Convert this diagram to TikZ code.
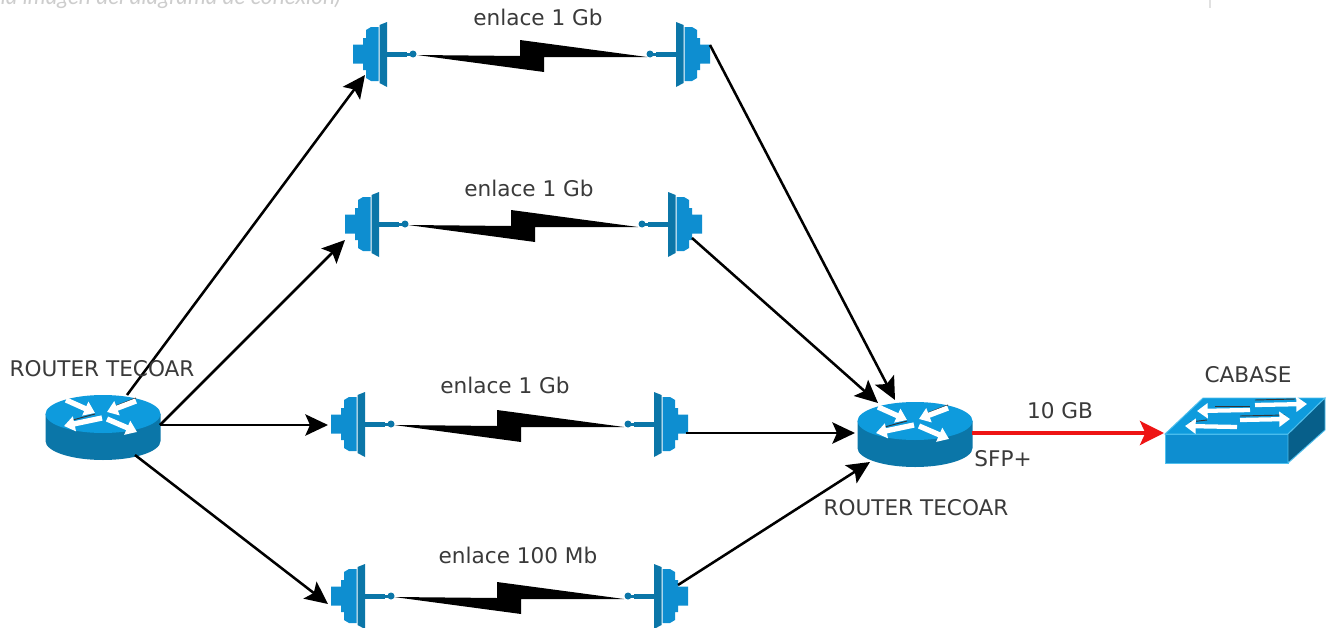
\documentclass[tikz,border=0pt]{standalone}
\usepackage{fontspec}
\setmainfont{DejaVu Sans}
\newfontfamily\capfont{Lato}
\usetikzlibrary{arrows.meta,calc}
\definecolor{ciscotop}{HTML}{0E9BDD}
\definecolor{ciscoside}{HTML}{0B76A8}
\definecolor{ciscomid}{HTML}{0E8ED0}
\definecolor{ciscodeep}{HTML}{075F8A}
\definecolor{ciscoedge}{HTML}{4FC0EE}
\definecolor{labelgrey}{HTML}{3A3A3A}
\tikzset{
  link/.style={draw=black,line width=1.9pt,-{Stealth[length=17pt,width=16pt,inset=3.5pt]}},
  redlink/.style={draw={rgb,255:red,238;green,20;blue,20},line width=2.6pt,-{Stealth[length=18pt,width=18pt,inset=4pt]}},
  lab/.style={text=labelgrey,font=\fontsize{16.2}{18}\selectfont,inner sep=0pt},
  whitearrow/.style={draw=white,line width=4pt,-{Triangle[length=8pt,width=11pt]}},
  shadeline/.style={draw=black!80,line width=0.7pt},
  anchorpt/.style={inner sep=0pt,minimum size=0pt,draw=none},
}
\newcommand{\antennashape}{%
    \fill[ciscomid] (-17,-9.5) -- (-7,-9.5) -- (-7,-16) -- (-4,-16) -- (-4,-24) -- (1,-27) -- (8.5,-27) -- (8.5,27) -- (1,27) -- (-4,24) -- (-4,16) -- (-7,16) -- (-7,9.5) -- (-17,9.5) -- cycle;
    \fill[ciscoside] (9.5,-29) -- (17,-32) -- (17,33) -- (9.5,29) -- cycle;
    \fill[ciscoside] (17,-2.5) rectangle (37,2.5);
    \fill[ciscoside] (43,0) circle (3.5);
    \fill[ciscoside] (37,-1.5) rectangle (41,1.5);}
\newcommand{\antennaL}[3]{%
  \begin{scope}[shift={(#2,#3)}]
    \node[anchorpt] (#1) at (0,0) {};
    \antennashape
  \end{scope}}
\newcommand{\antennaR}[3]{%
  \begin{scope}[shift={(#2,#3)},xscale=-1]
    \node[anchorpt] (#1) at (0,0) {};
    \antennashape
  \end{scope}}
\newcommand{\bolt}[2]{%
  \begin{scope}[shift={(#1,#2)}]
    \fill[black] (0,0) -- (127,17) -- (127,2) -- (230,2) -- (103,-15) -- (103,1) -- cycle;
  \end{scope}}
\newcommand{\routericon}[3]{%
  \begin{scope}[shift={(#2,#3)}]
    \node[anchorpt] (#1) at (0,0) {};
    \fill[ciscoside] (-57.5,-14) -- (-57.5,13) arc[start angle=180,end angle=0,x radius=57.5,y radius=19] -- (57.5,-14) -- cycle;
    \fill[ciscotop] (0,-14) ellipse [x radius=57.5,y radius=19];
    \draw[shadeline] (10,-21) -- (33,-30);
    \draw[shadeline] (-34,-7) -- (-8,-14);
    \draw[whitearrow] (-37,-28) -- (-8,-15);
    \draw[whitearrow] (33,-27) -- (4,-16);
    \draw[whitearrow] (-1,-10) -- (-39,-2);
    \draw[whitearrow] (4,-9) -- (34,4);
  \end{scope}}
\begin{document}
\begin{tikzpicture}[x=0.75pt,y=-0.75pt]
  \path[use as bounding box] (0,0) rectangle (1329,628);
  \clip (0,0) rectangle (1329,628);
  \fill[white] (0,0) rectangle (1329,628);

  \node[anchor=base east,inner sep=0pt,text={rgb,255:red,205;green,205;blue,205},font=\capfont\itshape\fontsize{17}{19}\selectfont] (caption) at (341,5) {(la imagen del diagrama de conexión)};
  \draw[draw={rgb,255:red,225;green,225;blue,225},line width=0.8pt] (1210,0) -- (1210,8);

  % antennas and bolts
  \antennaL{a1}{370}{54}  \antennaR{b1}{693}{54}  \bolt{417}{55}
  \antennaL{a2}{362}{224} \antennaR{b2}{685}{224} \bolt{408}{225}
  \antennaL{a3}{348}{424} \antennaR{b3}{671}{424} \bolt{394}{425}
  \antennaL{a4}{348}{596} \antennaR{b4}{671}{596} \bolt{394}{597}

  % routers
  \routericon{r1}{103}{428}
  \routericon{r2}{915}{435}

  % switch
  \node[anchorpt] (sw) at (1245,430) {};
  \filldraw[fill=ciscomid,draw=ciscoedge,line width=0.7pt] (1165,434) rectangle (1288,463);
  \filldraw[fill=ciscotop,draw=ciscoedge,line width=0.7pt] (1165,434) -- (1203,398) -- (1325,398) -- (1288,434) -- cycle;
  \filldraw[fill=ciscodeep,draw=ciscoedge,line width=0.7pt] (1288,434) -- (1325,398) -- (1325,430) -- (1288,463) -- cycle;
  \draw[shadeline] (1215,406) -- (1250,406);
  \draw[shadeline] (1255,400) -- (1295,399);
  \draw[shadeline] (1190,422) -- (1207,420);
  \draw[shadeline] (1240,416) -- (1285,415);
  \draw[whitearrow,line width=3.2pt] (1250,410) -- (1197,411);
  \draw[whitearrow,line width=3.2pt] (1255,405) -- (1307,404);
  \draw[whitearrow,line width=3.2pt] (1237,427) -- (1185,426);
  \draw[whitearrow,line width=3.2pt] (1240,420) -- (1290,419);

  % connector ends
  \coordinate (r1a) at ($(r1)+(24,-33)$);
  \coordinate (r1b) at ($(r1)+(57,-3)$);
  \coordinate (r1c) at ($(r1)+(32,27)$);
  \coordinate (a1in) at ($(a1)+(-5,21)$);
  \coordinate (a2in) at ($(a2)+(-17,16)$);
  \coordinate (a3in) at ($(a3)+(-20,1)$);
  \coordinate (a4in) at ($(a4)+(-20,8)$);
  \coordinate (b1out) at ($(b1)+(17,-9)$);
  \coordinate (b2out) at ($(b2)+(7,14)$);
  \coordinate (b3out) at ($(b3)+(15,9)$);
  \coordinate (b4out) at ($(b4)+(7,-11)$);
  \coordinate (r2a) at ($(r2)+(-20,-35)$);
  \coordinate (r2b) at ($(r2)+(-37,-32)$);
  \coordinate (r2c) at ($(r2)+(-60,-2)$);
  \coordinate (r2d) at ($(r2)+(-45,27)$);
  \coordinate (r2e) at ($(r2)+(57,-2)$);
  \coordinate (swin) at ($(sw)+(-81,3)$);

  \draw[link] (r1a) -- (a1in);
  \draw[link] (r1b) -- (a2in);
  \draw[link] (r1b) -- (a3in);
  \draw[link] (r1c) -- (a4in);
  \draw[link] (b1out) -- (r2a);
  \draw[link] (b2out) -- (r2b);
  \draw[link] (b3out) -- (r2c);
  \draw[link] (b4out) -- (r2d);
  \draw[redlink] (r2e) -- (swin);

  % labels
  \node[lab] (t1) at (538,17) {enlace 1 Gb};
  \node[lab] (t2) at (529,188) {enlace 1 Gb};
  \node[lab] (t3) at (505,385) {enlace 1 Gb};
  \node[lab] (t4) at (518,555) {enlace 100 Mb};
  \node[lab] (t5) at (102,369) {ROUTER TECOAR};
  \node[lab] (t6) at (916,508) {ROUTER TECOAR};
  \node[lab] (t7) at (1248,375) {CABASE};
  \node[lab] (t8) at (1060,411) {10 GB};
  \node[lab] (t9) at (1003,459) {SFP+};
\end{tikzpicture}
\end{document}
